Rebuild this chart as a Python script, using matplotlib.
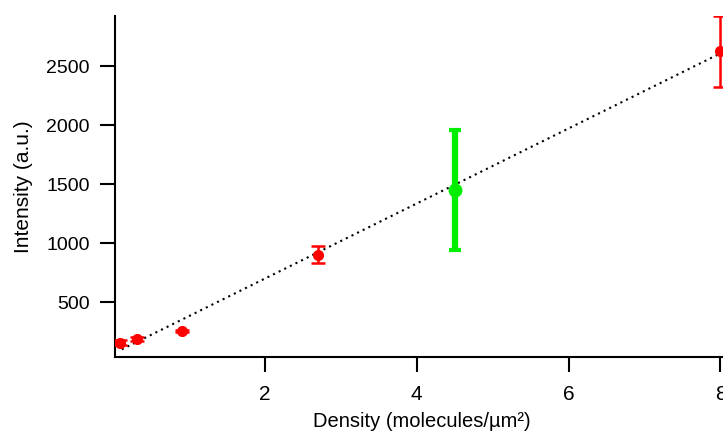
import matplotlib
matplotlib.use("Agg")
import matplotlib.pyplot as plt
import numpy as np

plt.rcParams['font.family'] = ['Liberation Sans', 'DejaVu Sans']

# Data
density_red = [0.10, 0.32, 0.91, 2.70, 8.0]
intensity_red = [160, 188, 258, 905, 2625]
err_red = [18, 18, 12, 75, 300]

density_green = [4.51]
intensity_green = [1450]
err_green = [510]

fit_x = [0.12, 8.0]
fit_slope = 318.0
fit_intercept = 65.0

xticks = [2, 4, 6, 8]
yticks = [500, 1000, 1500, 2000, 2500]

fig = plt.figure(figsize=(7.23, 4.33), dpi=100)
ax = fig.add_axes([0.159, 0.176, 0.848, 0.787])

fx = np.array(fit_x)
ax.plot(fx, fit_slope * fx + fit_intercept, linestyle=(0, (1, 2)), color='black', lw=1.5, zorder=3)

ax.errorbar(density_red, intensity_red, yerr=err_red, fmt='o', color='#ff0000',
            ms=7, elinewidth=1.8, capsize=5, capthick=1.8, zorder=4)
ax.errorbar(density_green, intensity_green, yerr=err_green, fmt='o', color='#00ee00',
            ms=9, elinewidth=4.5, capsize=4, capthick=3, zorder=5)

ax.set_xlim(0.03, 8.1)
ax.set_ylim(40, 2925)
ax.set_xticks(xticks)
ax.set_yticks(yticks)

for s in ['top', 'right']:
    ax.spines[s].set_visible(False)
for s in ['left', 'bottom']:
    ax.spines[s].set_linewidth(1.5)

ax.tick_params(axis='both', direction='out', length=11, width=1.5)
ax.tick_params(axis='x', pad=9, labelsize=15)
ax.tick_params(axis='y', pad=7, labelsize=14)

ax.set_xlabel('Density (molecules/µm²)', fontsize=14.5, labelpad=6)
ax.set_ylabel('Intensity (a.u.)', fontsize=15, labelpad=10)

fig.savefig('out.png', dpi=100)
